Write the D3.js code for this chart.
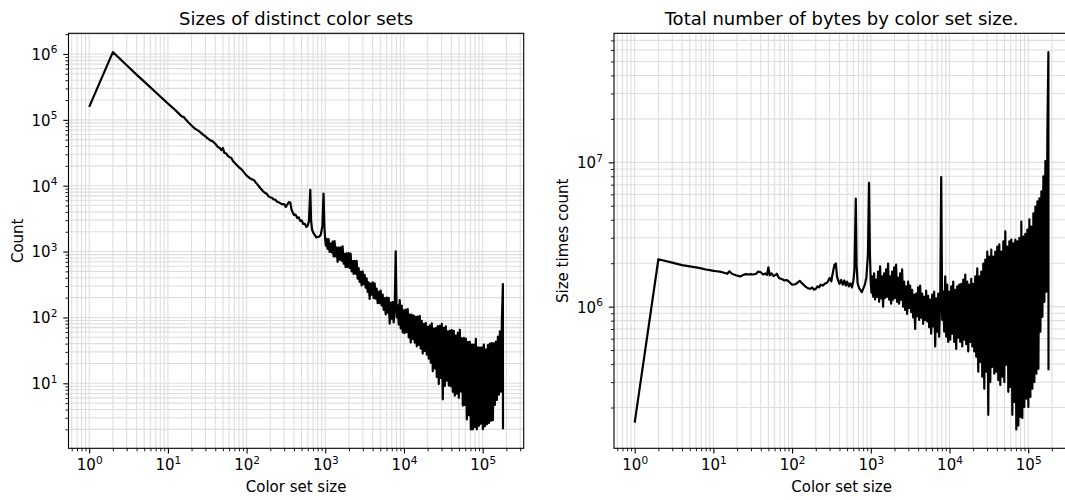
<!DOCTYPE html>
<html><head><meta charset="utf-8">
<script src="https://cdn.jsdelivr.net/npm/d3@7"></script>
<style>
body{margin:0;background:#fff}
svg{display:block}
text{font-family:"DejaVu Sans",sans-serif;fill:#000}
</style>
</head><body>
<svg id="chart" width="1065" height="500"></svg>
<script>
// ---- data ----
// colour-set size (x) and "size times count" (bytes, right panel); count = bytes / size (left panel)
const colorSetSize = [
  1,2,3,4,5,6,7,8,9,10,
  11,12,13,14,15,16,17,18,19,20,
  22,24,26,28,30,32,35,37,40,43,
  46,48,50,52,55,58,62,64,68,72,
  76,80,85,90,95,100,110,118,125,132,
  140,150,160,170,180,190,200,210,220,230,
  245,260,280,300,315,330,345,360,372,385,
  400,420,440,460,480,500,525,550,575,600,
  620,645,660,680,710,740,770,800,840,880,
  920,950,975,1000,1020,
  1039,1070,1102,1134,1168,1203,1239,1275,1313,1352,
  1393,1434,1477,1521,1566,1612,1660,1710,1760,1813,
  1867,1922,1979,2038,2099,2161,2225,2292,2360,2430,
  2502,2577,2653,2732,2813,2897,2983,3072,3163,3257,
  3354,3454,3556,3662,3771,3883,3998,4117,4240,4366,
  4496,4629,4767,4909,5054,5205,5359,5519,5683,5852,
  6026,6205,6389,6579,6775,6976,7184,7397,7625,7852,
  8085,8326,8574,8829,9092,9362,9640,9927,10222,10526,
  10839,11162,11494,11836,12188,12550,12924,13308,13704,14111,
  14531,14963,15408,15866,16338,16824,17324,17840,18370,18916,
  19479,20058,20655,21269,21901,22553,23223,23914,24625,25357,
  26111,26888,27687,28511,29358,30231,31130,32056,33010,33991,
  35002,36043,37114,38218,39355,40525,41730,42971,44249,45565,
  46920,48315,49752,51231,52755,54324,55939,57603,59316,61079,
  62896,64766,66692,68675,70717,72820,74985,77215,79511,81875,
  84310,86817,89398,92057,94794,97613,100591,103582,106662,109833,
  113099,116462,119925,123491,127164,130945,134838,138848,142976,147228,
  151605,156113,160755,165535,170457,175526,180747,181300
];
const sizeTimesCount = [
  1.57e5,2.13e6,2.02e6,1.94e6,1.90e6,1.87e6,1.84e6,1.81e6,1.79e6,1.77e6,
  1.76e6,1.75e6,1.73e6,1.71e6,1.69e6,1.76e6,1.70e6,1.67e6,1.66e6,1.64e6,
  1.62e6,1.66e6,1.68e6,1.67e6,1.68e6,1.67e6,1.69e6,1.75e6,1.73e6,1.67e6,
  1.70e6,1.66e6,1.87e6,1.65e6,1.70e6,1.63e6,1.66e6,1.69e6,1.58e6,1.56e6,
  1.54e6,1.52e6,1.53e6,1.50e6,1.46e6,1.42e6,1.43e6,1.47e6,1.51e6,1.46e6,
  1.42e6,1.37e6,1.34e6,1.33e6,1.36e6,1.31e6,1.33e6,1.38e6,1.36e6,1.42e6,
  1.40e6,1.44e6,1.47e6,1.58e6,1.50e6,1.72e6,1.95e6,1.99e6,1.62e6,1.52e6,
  1.44e6,1.53e6,1.42e6,1.52e6,1.40e6,1.49e6,1.38e6,1.45e6,1.36e6,1.50e6,
  1.80e6,5.6e6,1.95e6,1.45e6,1.35e6,1.30e6,1.26e6,1.33e6,1.42e6,1.60e6,
  2.3e6,7.2e6,2.3e6,1.45e6,1.25e6,
  1.62e6,1.17e6,1.70e6,1.12e6,1.54e6,1.17e6,1.75e6,1.08e6,1.90e6,1.14e6,
  1.62e6,1.0e6,1.70e6,1.15e6,1.81e6,1.17e6,1.99e6,1.12e6,1.62e6,1.05e6,
  1.75e6,1.12e6,1.87e6,1.15e6,1.96e6,1.08e6,1.59e6,1.05e6,1.70e6,1.12e6,
  1.81e6,1.0e6,1.49e6,9.5e5,1.38e6,8.9e5,1.49e6,9.8e5,1.40e6,9.2e5,
  1.31e6,8.4e5,1.21e6,7.0e5,1.23e6,8.6e5,1.36e6,8.1e5,1.40e6,8.4e5,
  1.23e6,7.6e5,1.17e6,8.1e5,1.29e6,7.9e5,1.19e6,7.2e5,1.12e6,6.5e5,
  1.21e6,7.3e5,1.27e6,5.3e5,1.14e6,6.7e5,1.23e6,6.2e5,1.12e6,7.9e6,
  8.1e5,1.27e6,6.7e5,1.62e6,6.2e5,1.42e6,5.7e5,1.27e6,5.9e5,1.38e6,
  6.5e5,1.49e6,5.7e5,1.31e6,5.1e5,1.38e6,6.1e5,1.42e6,5.7e5,1.44e6,
  5.3e5,1.54e6,5.9e5,1.67e6,5.5e5,1.49e6,4.9e5,1.42e6,5.7e5,1.56e6,
  5.3e5,1.44e6,4.9e5,1.62e6,4.5e5,1.84e6,3.54e5,1.62e6,4.15e5,1.75e6,
  3.27e5,1.99e6,2.7e5,2.12e6,3.54e5,2.41e6,1.78e5,2.22e6,3.0e5,2.49e6,
  3.83e5,2.22e6,3.43e5,2.41e6,3.54e5,2.61e6,3.1e5,2.70e6,2.87e5,2.41e6,
  3.27e5,2.83e6,3.0e5,3.32e6,3.96e5,2.61e6,2.57e5,2.83e6,2.78e5,2.92e6,
  1.78e5,2.75e6,2.19e5,2.92e6,1.41e5,2.83e6,1.50e5,3.0e6,1.72e5,3.89e6,
  1.69e5,3.06e6,2.02e5,3.2e6,2.30e5,3.42e6,2.02e5,4.02e6,2.37e5,3.59e6,
  2.7e5,4.43e6,3.0e5,4.94e6,3.43e5,5.36e6,3.71e5,5.62e6,6.7e5,6.3e6,
  8.5e5,8.0e6,1.08e6,1.02e7,1.27e6,1.64e7,5.8e7,3.63e5
];
const panelTitles = ["Sizes of distinct color sets", "Total number of bytes by color set size."];
const xLabels = ["Color set size", "Color set size"];
const yLabels = ["Count", "Size times count"];

// ---- layout ----
const svg = d3.select("#chart");
const PW = 455.2, PH = 415;
const panelLeft = [68.5, 614], panelTop = 33.3;
const GRID = "#dedede";
const FS = 15;

const n = Math.min(colorSetSize.length, sizeTimesCount.length);
const counts = sizeTimesCount.slice(0, n).map((v, i) => v / colorSetSize[i]);
const series = [
  counts.map((c, i) => [colorSetSize[i], c]),
  counts.map((c, i) => [colorSetSize[i], sizeTimesCount[i]])
];

function padLog(vals) {
  const a = Math.log10(d3.min(vals)), b = Math.log10(d3.max(vals));
  const p = (b - a) * 0.05;
  return [Math.pow(10, a - p), Math.pow(10, b + p)];
}
function logTicks(dom) {
  const major = [], minor = [];
  const k0 = Math.floor(Math.log10(dom[0])), k1 = Math.ceil(Math.log10(dom[1]));
  for (let k = k0; k <= k1; k++) {
    for (let m = 1; m <= 9; m++) {
      const v = m * Math.pow(10, k);
      if (v >= dom[0] && v <= dom[1]) (m === 1 ? major : minor).push(v);
    }
  }
  return {major, minor};
}
function supLabel(sel) {
  sel.each(function(d) {
    const t = d3.select(this);
    t.text(null);
    t.append("tspan").text("10");
    t.append("tspan").attr("dy", -6.6).attr("font-size", 10.5).text(Math.round(Math.log10(d)));
  });
}

const xDomain = padLog(colorSetSize.slice(0, n));

series.forEach((data, pi) => {
  const g = svg.append("g").attr("transform", `translate(${panelLeft[pi]},${panelTop})`);
  const x = d3.scaleLog().domain(xDomain).range([0, PW]);
  const yDomain = padLog(data.map(d => d[1]));
  const y = d3.scaleLog().domain(yDomain).range([PH, 0]);
  const xt = logTicks(xDomain), yt = logTicks(yDomain);

  // grid (major + minor)
  const grid = g.append("g").attr("stroke", GRID).attr("stroke-width", 1.1);
  grid.selectAll("line.gx").data(xt.major.concat(xt.minor)).join("line").attr("class", "gx")
    .attr("x1", d => x(d)).attr("x2", d => x(d)).attr("y1", 0).attr("y2", PH);
  grid.selectAll("line.gy").data(yt.major.concat(yt.minor)).join("line").attr("class", "gy")
    .attr("y1", d => y(d)).attr("y2", d => y(d)).attr("x1", 0).attr("x2", PW);

  // clip + line
  const cid = "clip" + pi;
  g.append("clipPath").attr("id", cid).append("rect").attr("width", PW).attr("height", PH);
  g.append("path").datum(data).attr("clip-path", `url(#${cid})`)
    .attr("fill", "none").attr("stroke", "#000").attr("stroke-width", 2.2)
    .attr("stroke-linejoin", "round")
    .attr("d", d3.line().x(d => x(d[0])).y(d => y(d[1])));

  // axes
  const styleAxis = a => {
    a.attr("font-size", FS).attr("font-family", "DejaVu Sans");
    a.select(".domain").remove();
    a.selectAll(".tick line").attr("stroke", "#000");
  };
  const xMaj = g.append("g").attr("transform", `translate(0,${PH})`)
    .call(d3.axisBottom(x).tickValues(xt.major).tickSize(5.2).tickPadding(6.3).tickFormat(() => ""));
  styleAxis(xMaj);
  xMaj.selectAll(".tick line").attr("stroke-width", 1.1);
  supLabel(xMaj.selectAll(".tick text"));
  const xMin = g.append("g").attr("transform", `translate(0,${PH})`)
    .call(d3.axisBottom(x).tickValues(xt.minor).tickSize(3).tickFormat(() => ""));
  styleAxis(xMin);
  xMin.selectAll(".tick line").attr("stroke-width", 0.9);

  const yMaj = g.append("g")
    .call(d3.axisLeft(y).tickValues(yt.major).tickSize(5.2).tickPadding(6).tickFormat(() => ""));
  styleAxis(yMaj);
  yMaj.selectAll(".tick line").attr("stroke-width", 1.1);
  yMaj.selectAll(".tick text").attr("dy", "0.36em");
  supLabel(yMaj.selectAll(".tick text"));
  const yMin = g.append("g")
    .call(d3.axisLeft(y).tickValues(yt.minor).tickSize(3).tickFormat(() => ""));
  styleAxis(yMin);
  yMin.selectAll(".tick line").attr("stroke-width", 0.9);

  // spines
  g.append("rect").attr("width", PW).attr("height", PH)
    .attr("fill", "none").attr("stroke", "#000").attr("stroke-width", 1.1);

  // texts
  g.append("text").attr("x", PW / 2).attr("y", -8.3).attr("text-anchor", "middle")
    .attr("font-size", 18).text(panelTitles[pi]);
  g.append("text").attr("x", PW / 2).attr("y", PH + 44.2).attr("text-anchor", "middle")
    .attr("font-size", FS).text(xLabels[pi]);
  g.append("text").attr("transform", `translate(-46,${PH / 2}) rotate(-90)`)
    .attr("text-anchor", "middle").attr("font-size", FS).text(yLabels[pi]);
});
</script>
</body></html>
